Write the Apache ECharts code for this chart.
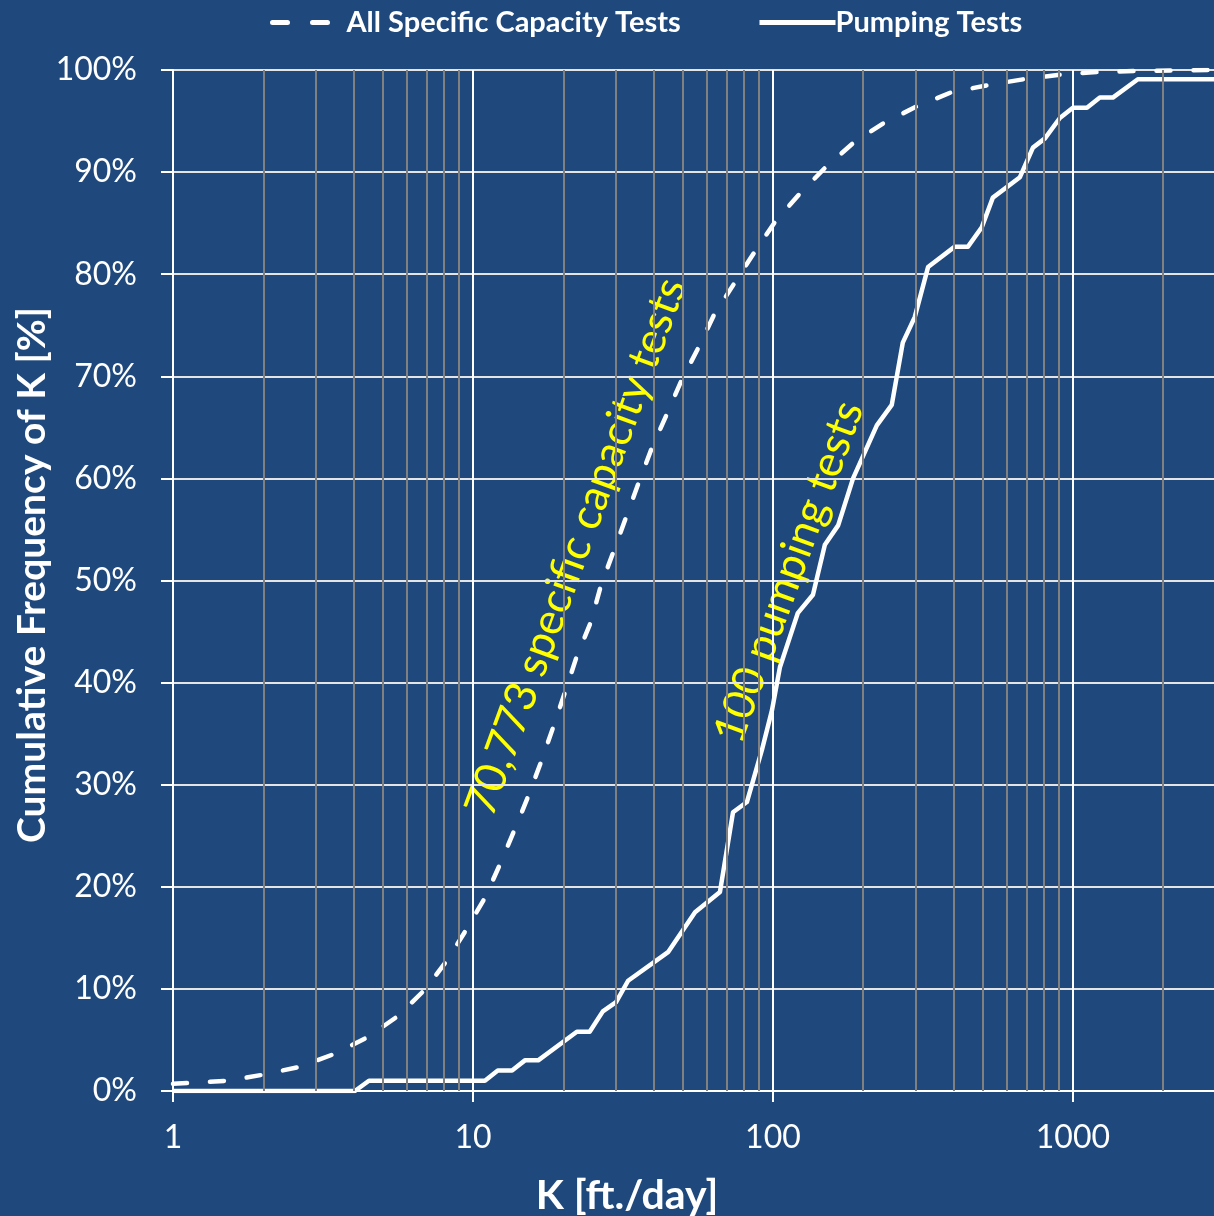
<!DOCTYPE html>
<html>
<head>
<meta charset="utf-8">
<script src="https://cdn.jsdelivr.net/npm/echarts@6/dist/echarts.min.js"></script>
<style>
  html, body { margin: 0; padding: 0; background: #1f497d; }
  #chart { width: 1214px; height: 1216px; }
</style>
</head>
<body>
<div id="chart"></div>
<script>
var chart = echarts.init(document.getElementById('chart'));

// K [ft/day], cumulative %
var specificCapacity = [
  [1, 0.7], [1.15, 0.8], [1.52, 1.0], [2.0, 1.6], [2.67, 2.4], [3.5, 3.7],
  [4.47, 5.3], [5.6, 7.3], [6.9, 9.9], [8.2, 12.8], [9.5, 15.8], [11, 19],
  [12.3, 22.2], [14, 26.1], [15.3, 28.9], [17, 32.5], [18.6, 35.8], [20.4, 39.3],
  [22.2, 42.6], [24.7, 45.9], [26.7, 49.5], [29.3, 52.7], [32.4, 56.2], [35.7, 59.6],
  [39.5, 63], [44.3, 66.3], [49.4, 69.5], [56.2, 72.7], [63.6, 76], [74.7, 79.2],
  [87, 82.2], [102, 85.2], [123, 87.9], [149, 90.4], [186, 92.9], [234, 94.8],
  [300, 96.4], [392, 97.8], [517, 98.5], [687, 99.1], [912, 99.55], [1202, 99.8],
  [1597, 99.9], [3000, 100]
];

var pumpingTests = [
  [1, 0], [4.04, 0], [4.5, 1], [10.96, 1], [12.1, 2], [13.5, 2], [14.9, 3],
  [16.5, 3], [22.2, 5.8], [24.5, 5.8], [27.1, 7.8], [30, 8.7], [32.9, 10.8],
  [44.7, 13.6], [55, 17.5], [66.6, 19.5], [73.6, 27.3], [81.9, 28.3], [91.9, 33.4],
  [99.3, 37.3], [105.5, 41.5], [121, 46.8], [136, 48.6], [149, 53.5], [165, 55.4],
  [185, 60], [222, 65.2], [249, 67.2], [271, 73.3], [297, 75.8], [329, 80.7],
  [404, 82.7], [447, 82.7], [497, 84.6], [541, 87.5], [666, 89.5], [736, 92.4],
  [807, 93.3], [905, 95.3], [1000, 96.3], [1114, 96.3], [1230, 97.3], [1359, 97.3],
  [1647, 99.1], [3000, 99.1]
];

var xMin = 1, xMax = 3000;
var minorLines = [2, 3, 4, 5, 6, 7, 8, 9, 20, 30, 40, 50, 60, 70, 80, 90,
  200, 300, 400, 500, 600, 700, 800, 900, 2000];

var font = 'Lato, "Open Sans", sans-serif';

var option = {
  backgroundColor: '#1f497d',
  animation: false,
  textStyle: { fontFamily: font },
  grid: { left: 173, top: 70, width: 1043, height: 1021, outerBoundsMode: 'none', containLabel: false },
  legend: [{
    left: 265, top: 3,
    itemWidth: 60, itemHeight: 20,
    data: ['All Specific Capacity Tests'],
    itemStyle: { opacity: 0 },
    lineStyle: { width: 5, type: [15, 25], cap: 'round' },
    textStyle: { color: '#fff', fontSize: 29, fontWeight: 'bold', fontFamily: font, padding: [0, 0, 0, 9] }
  }, {
    left: 752, top: 3,
    itemWidth: 76, itemHeight: 20,
    data: ['Pumping Tests'],
    itemStyle: { opacity: 0 },
    lineStyle: { width: 5 },
    textStyle: { color: '#fff', fontSize: 29, fontWeight: 'bold', fontFamily: font, padding: [0, 0, 0, -5] }
  }],
  xAxis: {
    type: 'log', logBase: 10, min: xMin, max: xMax,
    axisLine: { show: true, lineStyle: { color: '#fff', width: 2 } },
    axisTick: { show: true, length: 11, lineStyle: { color: '#fff', width: 2 } },
    axisLabel: {
      color: '#fff', fontSize: 32, margin: 31, fontFamily: font,
      showMaxLabel: false,
      formatter: function (v) { return String(v); }
    },
    splitLine: { show: true, lineStyle: { color: '#fff', width: 2 } },
    minorTick: { show: false },
    minorSplitLine: { show: false }
  },
  yAxis: {
    type: 'value', min: 0, max: 100, interval: 10,
    axisLine: { show: true, lineStyle: { color: '#fff', width: 2 } },
    axisTick: { show: true, length: 12, lineStyle: { color: '#fff', width: 2 } },
    axisLabel: { color: '#fff', fontSize: 32, margin: 36, formatter: '{value}%', fontFamily: font },
    splitLine: { show: true, lineStyle: { color: '#e4e4e4', width: 2 } }
  },
  series: [{
    name: 'minor',
    type: 'line',
    data: [],
    z: 1,
    silent: true,
    markLine: {
      silent: true,
      symbol: 'none',
      label: { show: false },
      lineStyle: { color: '#808080', width: 2, type: 'solid' },
      data: minorLines.map(function (v) { return { xAxis: v }; })
    }
  }, {
    name: 'All Specific Capacity Tests',
    type: 'line',
    data: specificCapacity,
    showSymbol: false,
    symbol: 'none',
    z: 3,
    lineStyle: { color: '#fff', width: 4.5, type: [14, 23], cap: 'round' },
    itemStyle: { color: '#fff' }
  }, {
    name: 'Pumping Tests',
    type: 'line',
    data: pumpingTests,
    showSymbol: false,
    symbol: 'none',
    z: 4,
    lineStyle: { color: '#fff', width: 4.5, join: 'round' },
    itemStyle: { color: '#fff' }
  }],
  graphic: [{
    type: 'text',
    x: 32, y: 575,
    rotation: Math.PI / 2,
    style: {
      text: 'Cumulative Frequency of K [%]',
      fill: '#fff', font: 'bold 39px ' + font,
      textAlign: 'center', textVerticalAlign: 'middle'
    }
  }, {
    type: 'text',
    x: 627, y: 1196,
    style: {
      text: 'K [ft./day]',
      fill: '#fff', font: 'bold 41px ' + font,
      textAlign: 'center', textVerticalAlign: 'middle'
    }
  }, {
    type: 'text',
    x: 576, y: 547,
    rotation: 70 * Math.PI / 180,
    style: {
      text: '70,773 specific capacity tests',
      fill: '#ffff00', font: '44px ' + font,
      textAlign: 'center', textVerticalAlign: 'middle'
    }
  }, {
    type: 'text',
    x: 789, y: 572,
    rotation: 70 * Math.PI / 180,
    style: {
      text: '100 pumping tests',
      fill: '#ffff00', font: '44px ' + font,
      textAlign: 'center', textVerticalAlign: 'middle'
    }
  }]
};

chart.setOption(option);
</script>
</body>
</html>
